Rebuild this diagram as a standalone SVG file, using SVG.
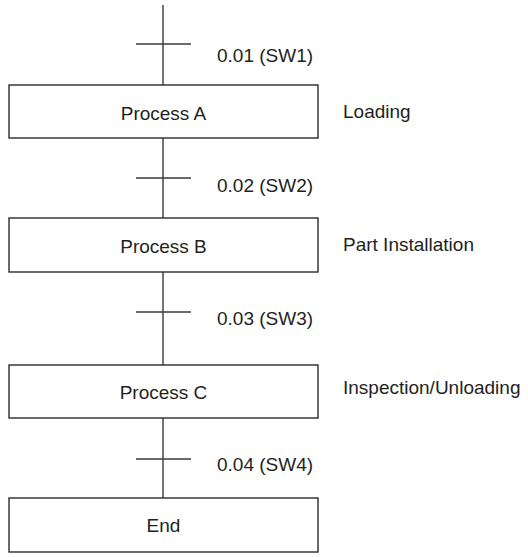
<svg xmlns="http://www.w3.org/2000/svg" width="528" height="557" viewBox="0 0 528 557">
<style>
.box{fill:#fff;stroke:#2b2b2b;stroke-width:1.4}
.ln{stroke:#3a3a3a;stroke-width:1.4;fill:none}
text{font-family:"Liberation Sans",Arial,sans-serif;font-size:19px;fill:#231f20}
.c{text-anchor:middle}
</style>
<rect width="528" height="557" fill="#fff"/>
<g id="connectors">
<line class="ln" x1="163" y1="5" x2="163" y2="85"/>
<line class="ln" x1="136" y1="44" x2="191" y2="44"/>
<line class="ln" x1="163" y1="138" x2="163" y2="218"/>
<line class="ln" x1="136" y1="178" x2="191" y2="178"/>
<line class="ln" x1="163" y1="272" x2="163" y2="365"/>
<line class="ln" x1="136" y1="312" x2="191" y2="312"/>
<line class="ln" x1="163" y1="418" x2="163" y2="498"/>
<line class="ln" x1="136" y1="459" x2="191" y2="459"/>
<text x="217" y="61.5">0.01 (SW1)</text>
<text x="217" y="191.5">0.02 (SW2)</text>
<text x="217" y="324.5">0.03 (SW3)</text>
<text x="217" y="470.5">0.04 (SW4)</text>
</g>
<g id="processA">
<rect class="box" x="9" y="85" width="309" height="53"/>
<text class="c" x="163.5" y="120">Process A</text>
<text x="343" y="117.5">Loading</text>
</g>
<g id="processB">
<rect class="box" x="9" y="218" width="309" height="54"/>
<text class="c" x="163.5" y="253">Process B</text>
<text x="343" y="250.5">Part Installation</text>
</g>
<g id="processC">
<rect class="box" x="9" y="365" width="309" height="53"/>
<text class="c" x="163.5" y="399">Process C</text>
<text x="343" y="394">Inspection/Unloading</text>
</g>
<g id="end">
<rect class="box" x="9" y="498" width="309" height="54"/>
<text class="c" x="163.5" y="532">End</text>
</g>
</svg>
